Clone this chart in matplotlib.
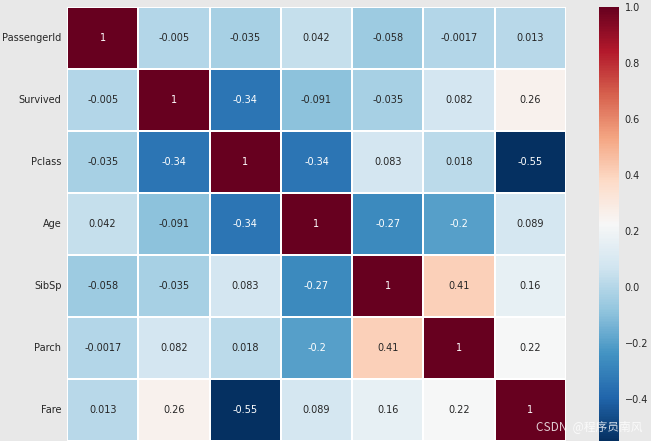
import matplotlib
matplotlib.use('Agg')
import matplotlib.pyplot as plt
import seaborn as sns
import numpy as np
import pandas as pd

# 相关系数矩阵
cols = ['PassengerId', 'Survived', 'Pclass', 'Age', 'SibSp', 'Parch', 'Fare']
r_pid  = [1, -0.005, -0.035, 0.042, -0.058, -0.0017, 0.013]
r_surv = [-0.005, 1, -0.34, -0.091, -0.035, 0.082, 0.26]
r_pcl  = [-0.035, -0.34, 1, -0.34, 0.083, 0.018, -0.55]
r_age  = [0.042, -0.091, -0.34, 1, -0.27, -0.2, 0.089]
r_sib  = [-0.058, -0.035, 0.083, -0.27, 1, 0.41, 0.16]
r_par  = [-0.0017, 0.082, 0.018, -0.2, 0.41, 1, 0.22]
r_fare = [0.013, 0.26, -0.55, 0.089, 0.16, 0.22, 1]

corr = pd.DataFrame([r_pid, r_surv, r_pcl, r_age, r_sib, r_par, r_fare],
                    index=cols, columns=cols)

bg = '#e8e8e8'
fig = plt.figure(figsize=(6.51, 4.41), dpi=100, facecolor=bg)
ax = fig.add_axes([67/651, 0, 499/651, 434/441])
cax = fig.add_axes([599/651, 0, 20/651, 434/441])

sns.heatmap(corr, ax=ax, cbar_ax=cax, cmap=plt.cm.RdBu_r, vmax=1.0,
            linewidths=1.2, linecolor='white', annot=True, fmt='.2g',
            annot_kws={'fontsize': 7})

ax.set_xticks([])
ax.tick_params(axis='y', length=0, labelsize=7, labelcolor='#262626', pad=4)
ax.set_yticklabels(cols, rotation=0)
cax.tick_params(length=0, labelsize=7, labelcolor='#262626', pad=4)
cax.set_yticks([-0.4, -0.2, 0.0, 0.2, 0.4, 0.6, 0.8, 1.0])

fig.text(643/651, 14/441, 'CSDN  @程序员南风', ha='right', va='center',
         fontsize=8.5, color='white', alpha=0.8,
         family=['Noto Sans CJK SC', 'DejaVu Sans'])

plt.savefig('out.png', dpi=100, facecolor=bg)
plt.close()
